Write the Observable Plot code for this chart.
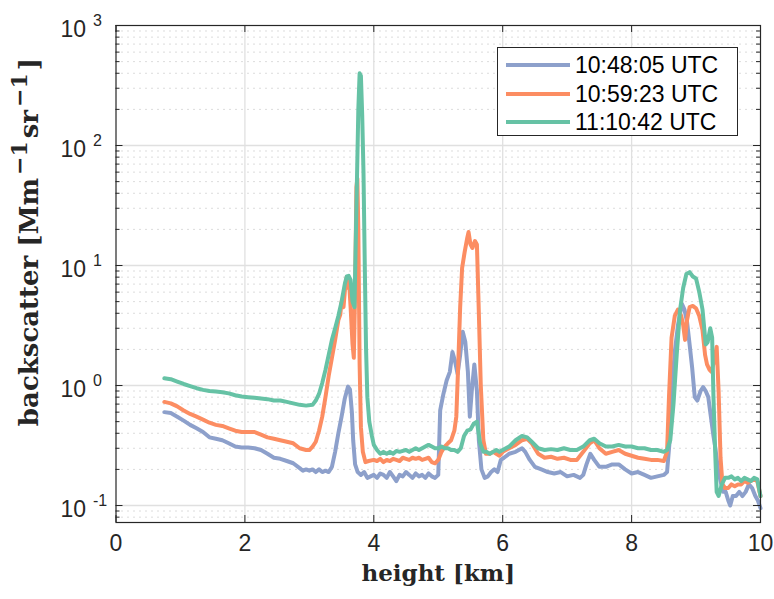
<!DOCTYPE html>
<html>
<head>
<meta charset="utf-8">
<script src="https://cdn.jsdelivr.net/npm/d3@7"></script>
<script src="https://cdn.jsdelivr.net/npm/@observablehq/plot@0.6"></script>
<style>
  html, body { margin: 0; padding: 0; background: #fff; }
  #wrap { position: relative; width: 774px; height: 599px; }
  #legend {
    position: absolute; left: 497px; top: 47px; width: 241px; height: 89px;
    border: 1px solid #262626; background: #fff; box-sizing: border-box;
    font-family: "Liberation Sans", Arial, sans-serif; font-size: 23px; color: #000;
  }
  .row { position: absolute; left: 0; height: 28px; line-height: 28px; white-space: nowrap; }
  .sw { position: absolute; left: 8px; top: 12px; width: 64px; height: 4px; }
  .lab { position: absolute; left: 77px; top: 0; }
</style>
</head>
<body>
<div id="wrap"><div id="legend"></div></div>
<script>
// ---- series labels & colours ----
const seriesNames = ["10:48:05 UTC", "10:59:23 UTC", "11:10:42 UTC"];
const seriesColors = ["#8DA0CB", "#FC8D62", "#66C2A5"];

// ---- 10:48:05 UTC ----
const heightBlue = [0.75,0.85,0.95,1.05,1.15,1.25,1.35,1.45,1.55,1.65,1.75,1.85,1.95,2.05,2.15,2.25,2.35,2.45,2.55,2.65,2.75,2.85,2.9,2.95,3.0,3.05,3.1,3.15,3.2,3.25,3.3,3.35,3.4,3.45,3.5,3.55,3.6,3.63,3.66,3.68,3.71,3.75,3.8,3.85,3.9,3.95,4.0,4.05,4.1,4.15,4.2,4.25,4.3,4.35,4.4,4.45,4.5,4.55,4.6,4.65,4.7,4.75,4.8,4.85,4.9,4.95,5.0,5.03,5.08,5.13,5.18,5.22,5.26,5.3,5.34,5.38,5.42,5.46,5.49,5.52,5.56,5.6,5.63,5.67,5.72,5.77,5.82,5.87,5.92,5.97,6.02,6.1,6.2,6.3,6.35,6.42,6.5,6.6,6.7,6.8,6.9,7.0,7.1,7.2,7.25,7.3,7.36,7.42,7.5,7.6,7.7,7.8,7.9,8.0,8.1,8.2,8.3,8.4,8.5,8.55,8.6,8.63,8.67,8.72,8.78,8.82,8.86,8.9,8.94,8.98,9.02,9.07,9.11,9.15,9.19,9.23,9.27,9.3,9.34,9.38,9.42,9.46,9.5,9.53,9.57,9.62,9.67,9.72,9.77,9.82,9.87,9.92,9.96,10.0];
const backscatterBlue = [0.60,0.59,0.55,0.51,0.47,0.44,0.41,0.37,0.36,0.35,0.33,0.31,0.305,0.305,0.30,0.29,0.27,0.25,0.245,0.235,0.225,0.205,0.195,0.20,0.195,0.20,0.19,0.20,0.19,0.195,0.19,0.21,0.28,0.40,0.55,0.78,0.98,0.93,0.60,0.35,0.22,0.19,0.18,0.19,0.17,0.175,0.18,0.17,0.185,0.18,0.17,0.19,0.175,0.16,0.18,0.175,0.19,0.18,0.17,0.185,0.175,0.18,0.17,0.185,0.175,0.17,0.18,0.62,0.85,1.1,1.3,1.9,1.6,1.25,1.8,2.8,2.3,1.3,0.55,0.9,1.5,0.9,0.35,0.20,0.17,0.175,0.19,0.20,0.19,0.24,0.25,0.27,0.28,0.30,0.28,0.24,0.21,0.20,0.19,0.185,0.19,0.175,0.18,0.17,0.18,0.22,0.27,0.24,0.21,0.21,0.22,0.22,0.20,0.185,0.19,0.18,0.17,0.175,0.18,0.19,0.40,1.0,1.9,3.2,4.8,4.3,3.4,2.2,1.4,0.8,0.75,0.9,0.97,0.9,0.8,0.55,0.38,0.30,0.20,0.16,0.13,0.13,0.11,0.10,0.12,0.12,0.13,0.12,0.13,0.15,0.14,0.12,0.11,0.095];

// ---- 10:59:23 UTC ----
const heightOrange = [0.75,0.85,0.95,1.05,1.15,1.25,1.35,1.45,1.55,1.65,1.75,1.85,1.95,2.05,2.15,2.25,2.35,2.45,2.55,2.65,2.75,2.85,2.95,3.0,3.05,3.1,3.15,3.2,3.25,3.3,3.35,3.4,3.45,3.48,3.5,3.53,3.56,3.58,3.6,3.62,3.64,3.67,3.69,3.71,3.73,3.745,3.76,3.78,3.8,3.83,3.87,3.92,4.0,4.05,4.1,4.15,4.2,4.25,4.3,4.35,4.4,4.45,4.5,4.55,4.6,4.65,4.7,4.75,4.8,4.85,4.9,4.95,5.0,5.05,5.1,5.15,5.2,5.25,5.28,5.31,5.34,5.37,5.41,5.45,5.47,5.5,5.53,5.57,5.6,5.63,5.66,5.7,5.74,5.8,5.85,5.9,5.95,6.0,6.1,6.2,6.3,6.38,6.45,6.55,6.65,6.75,6.85,6.95,7.05,7.15,7.25,7.35,7.42,7.5,7.6,7.7,7.8,7.9,8.0,8.1,8.2,8.3,8.4,8.5,8.55,8.58,8.62,8.67,8.72,8.77,8.8,8.83,8.86,8.9,8.95,9.0,9.05,9.1,9.14,9.17,9.21,9.24,9.28,9.32,9.35,9.38,9.41,9.45,9.5,9.55,9.6,9.65,9.7,9.75,9.8,9.85,9.9,9.95,10.0];
const backscatterOrange = [0.73,0.71,0.67,0.62,0.58,0.55,0.52,0.49,0.47,0.46,0.44,0.42,0.41,0.41,0.41,0.39,0.37,0.36,0.35,0.34,0.33,0.30,0.29,0.29,0.31,0.34,0.42,0.55,0.8,1.2,1.7,2.4,3.5,3.9,5.0,4.5,7.0,8.0,6.5,6.8,4.5,2.2,1.7,6,45,53,20,1.5,0.45,0.28,0.23,0.235,0.24,0.235,0.245,0.23,0.24,0.235,0.245,0.24,0.235,0.25,0.245,0.24,0.25,0.245,0.25,0.24,0.245,0.25,0.23,0.225,0.24,0.28,0.31,0.33,0.35,0.42,0.55,1.5,4.5,9.5,13,17,19,15,14,16,15,4,1.0,0.35,0.27,0.27,0.28,0.27,0.26,0.28,0.30,0.32,0.35,0.36,0.33,0.27,0.25,0.255,0.245,0.25,0.24,0.24,0.28,0.33,0.35,0.30,0.27,0.28,0.29,0.27,0.26,0.25,0.245,0.24,0.24,0.235,0.28,0.8,2.5,3.8,4.3,3.8,3.2,2.4,3.5,4.5,4.6,4.4,3.8,2.9,1.8,1.5,1.35,1.3,1.6,2.1,0.9,0.25,0.15,0.14,0.14,0.15,0.145,0.15,0.15,0.16,0.155,0.16,0.165,0.16,0.12];

// ---- 11:10:42 UTC ----
const heightGreen = [0.75,0.85,0.95,1.05,1.15,1.25,1.35,1.45,1.55,1.65,1.75,1.85,1.95,2.05,2.15,2.25,2.35,2.45,2.55,2.65,2.75,2.85,2.95,3.05,3.1,3.15,3.2,3.25,3.3,3.35,3.4,3.45,3.5,3.55,3.58,3.61,3.64,3.67,3.7,3.73,3.76,3.78,3.8,3.82,3.84,3.86,3.88,3.9,3.93,3.97,4.0,4.05,4.1,4.15,4.2,4.25,4.3,4.35,4.4,4.45,4.5,4.55,4.6,4.65,4.7,4.75,4.8,4.85,4.9,4.95,5.0,5.05,5.1,5.15,5.2,5.25,5.3,5.35,5.4,5.45,5.5,5.55,5.6,5.65,5.7,5.75,5.8,5.85,5.9,5.95,6.0,6.1,6.2,6.3,6.38,6.45,6.55,6.65,6.75,6.85,6.95,7.05,7.15,7.25,7.35,7.42,7.5,7.6,7.7,7.8,7.9,8.0,8.1,8.2,8.3,8.4,8.5,8.55,8.6,8.65,8.7,8.75,8.8,8.85,8.9,8.95,9.0,9.05,9.1,9.15,9.18,9.22,9.25,9.27,9.3,9.32,9.35,9.4,9.45,9.5,9.55,9.6,9.65,9.7,9.75,9.8,9.85,9.9,9.95,10.0];
const backscatterGreen = [1.15,1.13,1.08,1.03,0.99,0.95,0.92,0.90,0.89,0.88,0.86,0.83,0.81,0.80,0.79,0.78,0.77,0.75,0.75,0.73,0.71,0.69,0.68,0.69,0.75,0.85,1.05,1.35,1.8,2.4,3.0,3.8,5.0,7.0,8.1,8.2,7.6,5.0,4.5,30,200,400,380,180,60,10,2.0,0.8,0.5,0.38,0.32,0.29,0.27,0.28,0.27,0.28,0.27,0.285,0.28,0.285,0.29,0.28,0.29,0.30,0.29,0.30,0.31,0.32,0.31,0.30,0.30,0.31,0.30,0.30,0.29,0.29,0.28,0.30,0.38,0.42,0.43,0.48,0.50,0.33,0.28,0.28,0.27,0.28,0.29,0.28,0.29,0.31,0.35,0.38,0.37,0.34,0.30,0.29,0.295,0.29,0.30,0.29,0.29,0.31,0.35,0.36,0.33,0.31,0.31,0.32,0.31,0.31,0.30,0.30,0.29,0.29,0.28,0.29,0.35,0.7,1.8,4.2,6.5,8.5,8.8,8.1,7.8,6.0,4.3,2.2,2.3,3.0,2.5,0.8,0.25,0.13,0.12,0.15,0.17,0.17,0.175,0.165,0.17,0.16,0.17,0.165,0.16,0.17,0.165,0.12];

// ---- axis ticks ----
const xTicks = [0, 2, 4, 6, 8, 10];
const yTicks = [0.1, 1, 10, 100, 1000];
const yTickExponents = ["-1", "0", "1", "2", "3"];

const seriesHeights = [heightBlue, heightOrange, heightGreen];
const seriesValues = [backscatterBlue, backscatterOrange, backscatterGreen];
const rows = [];
seriesNames.forEach((name, i) => {
  seriesHeights[i].forEach((h, j) => rows.push({series: name, height: h, value: seriesValues[i][j]}));
});

const yDomain = [0.0722, 1000];
const yMinor = [];
for (const d of [0.01, 0.1, 1, 10, 100]) for (let k = 2; k <= 9; k++) {
  const v = d * k; if (v >= yDomain[0] && v <= yDomain[1]) yMinor.push(v);
}
const xGrid = xTicks.filter(v => v > 0 && v < 10);
const yGrid = yTicks.filter(v => v > yDomain[0] && v < yDomain[1]);

const W = 774, H = 599, mL = 115.5, mR = 14, mT = 25, mB = 77;
const innerW = W - mL - mR, innerH = H - mT - mB;
const ink = "#262626";
const sans = "Liberation Sans, Arial, Helvetica, sans-serif";
const serif = "DejaVu Serif, Liberation Serif, serif";
const yLabel = "backscatter [Mm-1sr-1]";

const plot = Plot.plot({
  width: W, height: H,
  marginLeft: mL, marginRight: mR, marginTop: mT, marginBottom: mB,
  style: {fontFamily: sans, background: "#fff", color: ink},
  x: {domain: [0, 10], axis: null},
  y: {type: "log", domain: yDomain, axis: null},
  color: {domain: seriesNames, range: seriesColors},
  marks: [
    // minor dotted grid
    Plot.ruleY(yMinor, {y: d => d, stroke: "#b8b8b8", strokeWidth: 1, strokeDasharray: "1,5"}),
    // major grid
    Plot.ruleY(yGrid, {y: d => d, stroke: "#e0e0e0", strokeWidth: 1.3}),
    Plot.ruleX(xGrid, {x: d => d, stroke: "#e0e0e0", strokeWidth: 1.3}),
    // data
    Plot.line(rows, {x: "height", y: "value", z: "series", stroke: "series",
      strokeWidth: 4, strokeLinejoin: "round", strokeLinecap: "round"}),
    // inward ticks: y major (left & right), y minor
    Plot.tickY(yTicks, {y: d => d, stroke: ink, insetRight: innerW - 7}),
    Plot.tickY(yTicks, {y: d => d, stroke: ink, insetLeft: innerW - 7}),
    Plot.tickY(yMinor, {y: d => d, stroke: ink, insetRight: innerW - 4}),
    Plot.tickY(yMinor, {y: d => d, stroke: ink, insetLeft: innerW - 4}),
    // inward ticks: x (bottom & top)
    Plot.tickX(xTicks, {x: d => d, stroke: ink, insetTop: innerH - 7}),
    Plot.tickX(xTicks, {x: d => d, stroke: ink, insetBottom: innerH - 7}),
    Plot.frame({stroke: ink, strokeWidth: 1.2}),
    // tick labels
    Plot.text(xTicks, {x: d => d, frameAnchor: "bottom", dy: 28, text: d => String(d), fontSize: 23, fill: ink}),
    Plot.text(yTicks, {y: d => d, frameAnchor: "left", dx: -30, dy: 4, text: () => "10", textAnchor: "end", fontSize: 23, fill: ink}),
    Plot.text(yTicks, {y: d => d, frameAnchor: "left", dx: -23, dy: -5, text: (d, i) => yTickExponents[i], textAnchor: "start", fontSize: 16, fill: ink}),
    // axis titles
    Plot.text(["height [km]"], {frameAnchor: "bottom", dy: 58, text: d => d, fontFamily: serif, fontWeight: "bold", fontSize: 23, fill: ink}),
    Plot.text([yLabel], {frameAnchor: "left", textAnchor: "middle", dx: -86, dy: -32, rotate: -90, text: d => d, fontFamily: serif, fontWeight: "bold", fontSize: 26, fill: ink})
  ]
});
document.getElementById("wrap").insertBefore(plot, document.getElementById("legend"));

// typeset the y label's superscripts as tspans
d3.select(plot).selectAll("text").filter(function() { return this.textContent === yLabel; }).each(function() {
  const t = d3.select(this);
  t.text(null);
  t.append("tspan").text("backscatter [Mm");
  t.append("tspan").attr("dy", -11).attr("dx", 3).attr("font-size", 22).text("\u22121");
  t.append("tspan").attr("dy", 11).attr("dx", 3).text("sr");
  t.append("tspan").attr("dy", -11).attr("dx", 3).attr("font-size", 22).text("\u22121");
  t.append("tspan").attr("dy", 11).attr("dx", 3).text("]");
});

// legend
const legend = document.getElementById("legend");
seriesNames.forEach((name, i) => {
  const row = document.createElement("div");
  row.className = "row";
  row.style.top = (3 + i * 28.5) + "px";
  row.style.width = "100%";
  row.innerHTML = `<div class="sw" style="background:${seriesColors[i]}"></div><div class="lab">${name}</div>`;
  legend.appendChild(row);
});
</script>
</body>
</html>
